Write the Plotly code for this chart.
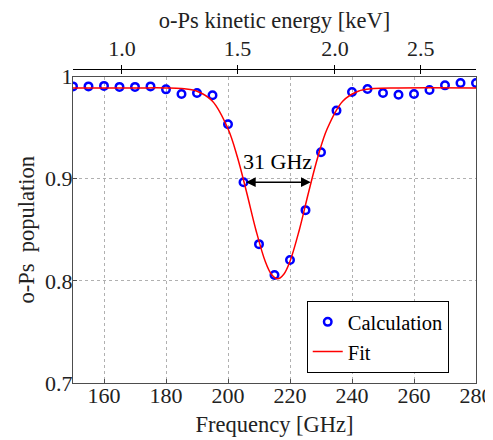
import plotly.graph_objects as go

# Data
freq_calc = [150, 155, 160, 165, 170, 175, 180, 185, 190, 195, 200, 205, 210,
             215, 220, 225, 230, 235, 240, 245, 250, 255, 260, 265, 270, 275, 280]
pop_calc = [0.9905, 0.9905, 0.991, 0.990, 0.990, 0.9905, 0.9876, 0.983, 0.984,
            0.9818, 0.9535, 0.8967, 0.836, 0.8058, 0.8205, 0.8693, 0.926, 0.9668,
            0.985, 0.988, 0.984, 0.9824, 0.983, 0.987, 0.9915, 0.9938, 0.9938]

freq_fit = [150, 170, 180, 185, 190, 195, 200, 203, 206, 209, 212, 214, 216,
            218, 220, 223, 226, 229, 232, 237, 242, 247, 255, 280]
pop_fit = [0.989, 0.989, 0.989, 0.9884, 0.9858, 0.976, 0.949, 0.9216, 0.8868,
           0.8499, 0.8192, 0.8065, 0.802, 0.8065, 0.8192, 0.8499, 0.8868, 0.9216,
           0.949, 0.976, 0.9858, 0.9884, 0.989, 0.989]

energy_ticks = [1.0, 1.5, 2.0, 2.5]
energy_labels = ["1.0", "1.5", "2.0", "2.5"]
F0 = 165.8  # GHz at 1 keV, E ∝ f^2
energy_pos = [F0 * e ** 0.5 for e in energy_ticks]

freq_ticks = [160, 180, 200, 220, 240, 260, 280]
y_ticks = [0.7, 0.8, 0.9, 1.0]
y_labels = ["0.7", "0.8", "0.9", "1"]

width_label = "31 GHz"
arrow_left, arrow_right, arrow_y = 205.3, 226.7, 0.8967

FONT = "Liberation Serif"
FRAME = "#4d4d4d"

fig = go.Figure()
fig.add_trace(go.Scatter(
    x=freq_calc, y=pop_calc, mode="markers", name="Calculation",
    marker=dict(symbol="circle-open", size=7.5, color="#0000ff",
                line=dict(width=2.5, color="#0000ff")),
))
fig.add_trace(go.Scatter(
    x=freq_fit, y=pop_fit, mode="lines", name="Fit", line_shape="spline",
    line=dict(color="#ff0000", width=1.5),
))
# helper traces so the top axes are drawn
for ax in ("x2", "x3"):
    fig.add_trace(go.Scatter(x=[150], y=[0.5], xaxis=ax, yaxis="y",
                             mode="markers", showlegend=False, hoverinfo="skip",
                             marker=dict(opacity=0)))

fig.add_annotation(x=arrow_right, y=arrow_y, ax=arrow_left, ay=arrow_y,
                   xref="x", yref="y", axref="x", ayref="y", text="",
                   showarrow=True, arrowhead=2, arrowside="end+start",
                   arrowsize=1.3, arrowwidth=1.5, arrowcolor="black")
fig.add_annotation(x=216, y=0.917, xref="x", yref="y", text=width_label,
                   showarrow=False, font=dict(family=FONT, size=22, color="black"))

axis_common = dict(showline=True, linecolor=FRAME, linewidth=1,
                   mirror=True, ticks="inside", ticklen=4, tickcolor=FRAME,
                   showgrid=True, gridcolor="#b0b0b0", griddash="3px,3px",
                   gridwidth=1, zeroline=False, automargin=False,
                   tickfont=dict(family=FONT, size=22, color="#222222"))

fig.update_layout(
    width=485, height=432,
    margin=dict(l=65, r=17, t=61, b=57),
    paper_bgcolor="white", plot_bgcolor="white",
    font=dict(family=FONT, size=22, color="#222222"),
    showlegend=True,
    legend=dict(x=0.58, y=0.261, xanchor="left", yanchor="top",
                bgcolor="white", bordercolor="black", borderwidth=1,
                font=dict(family=FONT, size=20.5, color="black"),
                tracegroupgap=0),
    xaxis=dict(range=[150, 280], tickvals=freq_ticks, ticklabelstandoff=-7,
               title=dict(text="Frequency [GHz]", standoff=8,
                          font=dict(family=FONT, size=22.5)),
               **axis_common),
    yaxis=dict(range=[0.7, 1.0], domain=[0, 0.9755], tickvals=y_ticks,
               ticktext=y_labels, ticklabelstandoff=-5,
               title=dict(text="o-Ps&nbsp; population", standoff=4,
                          font=dict(family=FONT, size=22.5)),
               **axis_common),
    xaxis2=dict(range=[150, 280], overlaying="x", side="top", anchor="free",
                position=1.0, tickvals=energy_pos, ticktext=energy_labels,
                showline=True, linecolor="black", linewidth=1,
                ticks="outside", ticklen=4, tickcolor="black",
                showgrid=False, zeroline=False, automargin=False,
                tickfont=dict(family=FONT, size=22, color="#222222"),
                title=dict(text="o-Ps kinetic energy [keV]", standoff=0,
                           font=dict(family=FONT, size=22.5))),
    xaxis3=dict(range=[150, 280], overlaying="x", side="top", anchor="free",
                position=1.0, tickvals=energy_pos, showticklabels=False,
                showline=False, ticks="inside", ticklen=4, tickcolor="black",
                showgrid=False, zeroline=False, automargin=False),
)

fig.write_html("out.html")
